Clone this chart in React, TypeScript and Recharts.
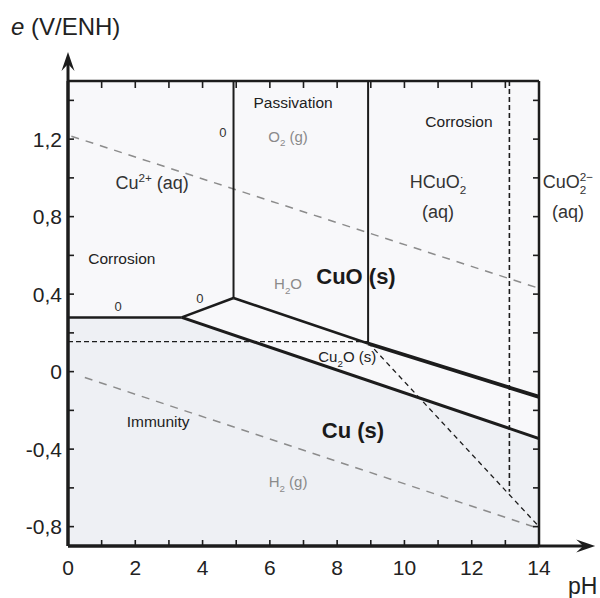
import {
  ComposedChart,
  Line,
  Area,
  XAxis,
  YAxis,
  ReferenceArea,
  ReferenceLine,
  ReferenceDot,
} from 'recharts'

const FONT = '"Liberation Sans", Arial, Helvetica, sans-serif'
const INK = '#1c1c1c'

// axes
const PH_TICKS = [0, 1, 2, 3, 4, 5, 6, 7, 8, 9, 10, 11, 12, 13, 14]
const PH_LABELS = [0, 2, 4, 6, 8, 10, 12, 14]
const E_TICKS = [-0.8, -0.6, -0.4, -0.2, 0, 0.2, 0.4, 0.6, 0.8, 1.0, 1.2, 1.4]
const E_LABELS = [-0.8, -0.4, 0, 0.4, 0.8, 1.2]

// stability boundaries, (pH, e)
const CU_CU2 = [{ pH: 0, e: 0.28 }, { pH: 3.38, e: 0.28 }]
const CU2O_CU2 = [{ pH: 3.38, e: 0.28 }, { pH: 4.92, e: 0.38 }]
const CUO_CU2 = [{ pH: 4.92, e: 1.5 }, { pH: 4.92, e: 0.38 }]
const CUO_CU2O_A = [{ pH: 4.92, e: 0.38 }, { pH: 8.92, e: 0.145 }]
const CUO_CU2O_B = [{ pH: 8.92, e: 0.145 }, { pH: 14, e: -0.13 }]
const CUO_HCUO2 = [{ pH: 8.92, e: 1.5 }, { pH: 8.92, e: 0.145 }]
const CU2O_CU = [{ pH: 3.38, e: 0.28 }, { pH: 14, e: -0.345 }]

// dashed lines
const DASH_H = [{ pH: 0, e: 0.155 }, { pH: 8.92, e: 0.155 }]
const DASH_DIAG = [{ pH: 8.92, e: 0.15 }, { pH: 14, e: -0.8 }]
const DASH_V = [{ pH: 13.12, e: 1.5 }, { pH: 13.12, e: -0.62 }]
const WATER_O2 = [{ pH: 0.1, e: 1.215 }, { pH: 14, e: 0.43 }]
const WATER_H2 = [{ pH: 0.5, e: -0.03 }, { pH: 14, e: -0.81 }]

// Cu (s) domain shading
const IMMUNITY = [{ pH: 0, e: 0.28 }, { pH: 3.38, e: 0.28 }, { pH: 14, e: -0.345 }]

type Part = { t: string; sub?: boolean; sup?: boolean; stack?: boolean }
type Lbl = { pH: number; e: number; kind: string; parts: Part[] }

const LABELS: Lbl[] = [
  { pH: 6.69, e: 1.387, kind: 'region', parts: [{ t: 'Passivation' }] },
  { pH: 6.54, e: 1.215, kind: 'gas', parts: [{ t: 'O' }, { t: '2', sub: true }, { t: ' (g)' }] },
  { pH: 4.6, e: 1.236, kind: 'zero', parts: [{ t: '0' }] },
  { pH: 11.62, e: 1.29, kind: 'region', parts: [{ t: 'Corrosion' }] },
  { pH: 2.5, e: 0.975, kind: 'species', parts: [{ t: 'Cu' }, { t: '2+', sup: true }, { t: ' (aq)' }] },
  { pH: 11.0, e: 0.98, kind: 'species', parts: [{ t: 'HCuO' }, { t: '2', sub: true }, { t: '·', sup: true, stack: true }] },
  { pH: 11.0, e: 0.827, kind: 'species', parts: [{ t: '(aq)' }] },
  { pH: 14.86, e: 0.98, kind: 'species', parts: [{ t: 'CuO' }, { t: '2', sub: true }, { t: '2−', sup: true, stack: true }] },
  { pH: 14.86, e: 0.827, kind: 'species', parts: [{ t: '(aq)' }] },
  { pH: 1.6, e: 0.586, kind: 'region', parts: [{ t: 'Corrosion' }] },
  { pH: 1.49, e: 0.335, kind: 'zero', parts: [{ t: '0' }] },
  { pH: 3.92, e: 0.378, kind: 'zero', parts: [{ t: '0' }] },
  { pH: 6.54, e: 0.453, kind: 'gas', parts: [{ t: 'H' }, { t: '2', sub: true }, { t: 'O' }] },
  { pH: 8.56, e: 0.493, kind: 'bold', parts: [{ t: 'CuO (s)' }] },
  { pH: 8.3, e: 0.075, kind: 'small', parts: [{ t: 'Cu' }, { t: '2', sub: true }, { t: 'O (s)' }] },
  { pH: 2.68, e: -0.259, kind: 'region', parts: [{ t: 'Immunity' }] },
  { pH: 8.47, e: -0.302, kind: 'bold', parts: [{ t: 'Cu (s)' }] },
  { pH: 6.54, e: -0.569, kind: 'gas', parts: [{ t: 'H' }, { t: '2', sub: true }, { t: ' (g)' }] },
]

const KIND_STYLE: Record<string, { fs: number; fill: string; weight: string }> = {
  region: { fs: 15.5, fill: '#222', weight: 'normal' },
  gas: { fs: 15, fill: '#8a8a8a', weight: 'normal' },
  zero: { fs: 13, fill: '#333', weight: 'normal' },
  species: { fs: 18, fill: '#333', weight: 'normal' },
  small: { fs: 15, fill: '#222', weight: 'normal' },
  bold: { fs: 22, fill: '#1a1a1a', weight: 'bold' },
}

function fmtE(v: number) {
  if (Math.abs(v) < 1e-9) return '0'
  return v.toFixed(1).replace('.', ',')
}

function renderParts(parts: Part[], fs: number) {
  let shift = 0
  let prevLen = 0
  return parts.map((p, i) => {
    const small = p.sub || p.sup
    const target = p.sub ? fs * 0.3 : p.sup ? -fs * 0.42 : 0
    const dy = target - shift
    shift = target
    const dx = p.stack ? -prevLen * fs * 0.65 * 0.556 : 0
    prevLen = p.t.length
    return (
      <tspan key={i} dy={dy} dx={dx} fontSize={small ? fs * 0.65 : fs}>
        {p.t}
      </tspan>
    )
  })
}

function regionLabel(l: Lbl) {
  const s = KIND_STYLE[l.kind]
  return (props: any) => (
    <text
      x={props.cx}
      y={props.cy + s.fs * 0.36}
      textAnchor="middle"
      fontFamily={FONT}
      fontSize={s.fs}
      fontWeight={s.weight}
      fill={s.fill}
    >
      {renderParts(l.parts, s.fs)}
    </text>
  )
}

function BottomTick(props: any) {
  const { x, y, payload } = props
  const v = payload.value as number
  return (
    <g>
      {v > 0 && v < 14 && <line x1={x} x2={x} y1={y} y2={y - 6} stroke={INK} strokeWidth={1.6} />}
      {PH_LABELS.includes(v) && (
        <text x={x} y={y + 29} textAnchor="middle" fontFamily={FONT} fontSize={21} fill="#222">
          {v}
        </text>
      )}
    </g>
  )
}

// top axis is 1px tall, its ticks start at the frame line
function TopTick(props: any) {
  const { x, y, payload } = props
  const v = payload.value as number
  if (v <= 0 || v >= 14) return <g />
  return <line x1={x} x2={x} y1={y + 1} y2={y + 7} stroke={INK} strokeWidth={1.6} />
}

function LeftTick(props: any) {
  const { x, y, payload } = props
  const v = payload.value as number
  const labelled = E_LABELS.some((l) => Math.abs(l - v) < 1e-6)
  return (
    <g>
      <line x1={x} x2={x + 6} y1={y} y2={y} stroke={INK} strokeWidth={1.6} />
      {labelled && (
        <text x={x - 6} y={y + 7.8} textAnchor="end" fontFamily={FONT} fontSize={21} fill="#222">
          {fmtE(v)}
        </text>
      )}
    </g>
  )
}

function RightTick(props: any) {
  const { x, y } = props
  return <line x1={x} x2={x - 6} y1={y} y2={y} stroke={INK} strokeWidth={1.6} />
}

function Arrow(props: any) {
  const { x1, y1, x2, y2 } = props
  const a = Math.atan2(y2 - y1, x2 - x1)
  const ux = Math.cos(a)
  const uy = Math.sin(a)
  const nx = -uy
  const ny = ux
  const L = 19
  const W = 6.5
  const N = 12
  const p1 = `${x2 - L * ux + W * nx},${y2 - L * uy + W * ny}`
  const p2 = `${x2 - N * ux},${y2 - N * uy}`
  const p3 = `${x2 - L * ux - W * nx},${y2 - L * uy - W * ny}`
  return (
    <g>
      <line x1={x1} y1={y1} x2={x2 - N * ux} y2={y2 - N * uy} stroke={INK} strokeWidth={3} />
      <polygon points={`${x2},${y2} ${p1} ${p2} ${p3}`} fill={INK} />
    </g>
  )
}

function YTitle(props: any) {
  const vb = props.viewBox
  return (
    <text x={vb.x + 3} y={vb.y - 46} fontFamily={FONT} fontSize={24} fill="#222">
      <tspan fontStyle="italic">e</tspan> (V/ENH)
    </text>
  )
}

function XTitle(props: any) {
  const vb = props.viewBox
  return (
    <text x={vb.x + vb.width + 29} y={vb.y + 48} fontFamily={FONT} fontSize={23} fill="#222">
      pH
    </text>
  )
}

const lineProps = {
  dataKey: 'e',
  type: 'linear' as const,
  dot: false,
  activeDot: false,
  isAnimationActive: false,
  legendType: 'none' as const,
}

export default function App() {
  return (
    <div style={{ position: 'absolute', left: 0, top: 0, background: '#fff' }}>
      <ComposedChart width={600} height={598} margin={{ top: 80, right: 60, bottom: 22, left: 8 }}>
        <XAxis
          dataKey="pH"
          type="number"
          domain={[0, 14]}
          ticks={PH_TICKS}
          interval={0}
          allowDataOverflow
          tickSize={0}
          tickMargin={0}
          tickLine={false}
          tick={<BottomTick />}
          axisLine={{ stroke: INK, strokeWidth: 3 }}
          height={30}
          label={<XTitle />}
        />
        <XAxis
          xAxisId="top"
          orientation="top"
          dataKey="pH"
          type="number"
          domain={[0, 14]}
          ticks={PH_TICKS}
          interval={0}
          allowDataOverflow
          tickSize={0}
          tickMargin={0}
          tickLine={false}
          tick={<TopTick />}
          axisLine={{ stroke: INK, strokeWidth: 2.5 }}
          height={1}
        />
        <YAxis
          type="number"
          domain={[-0.9, 1.5]}
          ticks={E_TICKS}
          interval={0}
          allowDataOverflow
          tickSize={0}
          tickMargin={0}
          tickLine={false}
          tick={<LeftTick />}
          axisLine={{ stroke: INK, strokeWidth: 3 }}
          width={60}
          label={<YTitle />}
        />
        <YAxis
          yAxisId="right"
          orientation="right"
          type="number"
          domain={[-0.9, 1.5]}
          ticks={E_TICKS}
          interval={0}
          allowDataOverflow
          tickSize={0}
          tickMargin={0}
          tickLine={false}
          tick={<RightTick />}
          axisLine={{ stroke: INK, strokeWidth: 2.5 }}
          width={1}
        />

        <ReferenceArea x1={0} x2={14} y1={-0.9} y2={1.5} fill="#f8f8fa" fillOpacity={1} stroke="none" />
        <Area
          data={IMMUNITY}
          dataKey="e"
          type="linear"
          baseValue="dataMin"
          fill="#eef0f4"
          fillOpacity={1}
          stroke="none"
          dot={false}
          activeDot={false}
          isAnimationActive={false}
        />

        {/* water stability lines */}
        <Line {...lineProps} data={WATER_O2} stroke="#8c8c8c" strokeWidth={1.5} strokeDasharray="8 7" />
        <Line {...lineProps} data={WATER_H2} stroke="#8c8c8c" strokeWidth={1.5} strokeDasharray="8 7" />

        {/* dashed boundaries */}
        <Line {...lineProps} data={DASH_H} stroke={INK} strokeWidth={1.3} strokeDasharray="5 3" />
        <Line {...lineProps} data={DASH_DIAG} stroke={INK} strokeWidth={1.3} strokeDasharray="5 4" />
        <Line {...lineProps} data={DASH_V} stroke={INK} strokeWidth={1.6} strokeDasharray="5 3" />

        {/* solid boundaries */}
        <Line {...lineProps} data={CU_CU2} stroke={INK} strokeWidth={2.5} />
        <Line {...lineProps} data={CU2O_CU2} stroke={INK} strokeWidth={2.5} />
        <Line {...lineProps} data={CUO_CU2} stroke={INK} strokeWidth={2} />
        <Line {...lineProps} data={CUO_CU2O_A} stroke={INK} strokeWidth={2.5} />
        <Line {...lineProps} data={CUO_CU2O_B} stroke={INK} strokeWidth={3.8} />
        <Line {...lineProps} data={CUO_HCUO2} stroke={INK} strokeWidth={2} />
        <Line {...lineProps} data={CU2O_CU} stroke={INK} strokeWidth={3} />

        {/* axis arrows */}
        <ReferenceLine
          segment={[{ x: 0, y: -0.9 }, { x: 0, y: 1.65 }]}
          ifOverflow="visible"
          shape={Arrow}
          isFront
        />
        <ReferenceLine
          segment={[{ x: 0, y: -0.9 }, { x: 15.67, y: -0.9 }]}
          ifOverflow="visible"
          shape={Arrow}
          isFront
        />

        {LABELS.map((l, i) => (
          <ReferenceDot key={i} x={l.pH} y={l.e} r={0} ifOverflow="visible" shape={regionLabel(l)} isFront />
        ))}
      </ComposedChart>
    </div>
  )
}
